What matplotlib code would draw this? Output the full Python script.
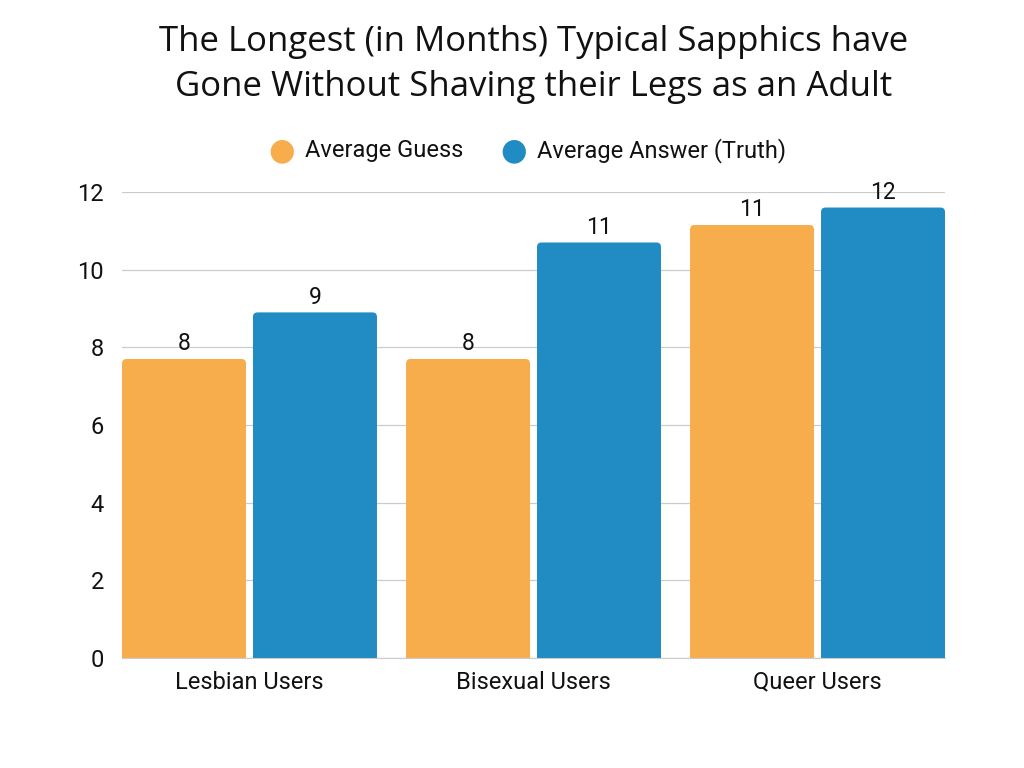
import matplotlib.pyplot as plt
from matplotlib.patches import FancyBboxPatch
import numpy as np

categories = ["Lesbian Users", "Bisexual Users", "Queer Users"]
guess = [7.7, 7.7, 11.15]
answer = [8.9, 10.7, 11.6]
guess_labels = ["8", "8", "11"]
answer_labels = ["9", "11", "12"]
series_names = ["Average Guess", "Average Answer (Truth)"]

ORANGE = "#F7AD4C"
BLUE = "#218BC3"
tick_font = ["Roboto", "DejaVu Sans"]

fig = plt.figure(figsize=(10.24, 7.68), dpi=100)
ax = fig.add_axes([0.1191, 0.1432, 0.8038, 0.6068])

x = np.arange(len(categories))
w = 0.4366
off = 0.2306


def rounded_bars(xs, vals, color):
    bars = ax.bar(xs, vals, width=w, color=color, zorder=3)
    for b in bars:
        bx, bh = b.get_x(), b.get_height()
        b.set_visible(False)
        p = FancyBboxPatch((bx, -0.3), w, bh + 0.3,
                           boxstyle="round,pad=0,rounding_size=0.016",
                           mutation_aspect=7.3, facecolor=color,
                           edgecolor="none", zorder=3)
        ax.add_patch(p)
    return bars


rounded_bars(x - off, guess, ORANGE)
rounded_bars(x + off, answer, BLUE)

for xi, v, lab in zip(x - off, guess, guess_labels):
    ax.text(xi, v + 0.1, lab, ha="center", va="bottom", fontsize=16.5,
            family=tick_font, color="#111111")
for xi, v, lab in zip(x + off, answer, answer_labels):
    ax.text(xi, v + 0.1, lab, ha="center", va="bottom", fontsize=16.5,
            family=tick_font, color="#111111")

ax.set_xlim(-0.449, 2.449)
ax.set_ylim(0, 12)
ax.set_yticks(range(0, 13, 2))
ax.set_xticks(x)
ax.set_xticklabels(categories)
for lab in ax.get_xticklabels() + ax.get_yticklabels():
    lab.set_family(tick_font)
    lab.set_fontsize(17)
    lab.set_color("#111111")
ax.tick_params(axis="y", length=0, pad=13)
ax.tick_params(axis="x", length=0, pad=9)
ax.yaxis.grid(True, color="#cccccc", linewidth=0.9, zorder=0)
for s in ["top", "right", "left"]:
    ax.spines[s].set_visible(False)
ax.spines["bottom"].set_color("#cccccc")
ax.spines["bottom"].set_zorder(4)

# legend
fig.text(0.2754, 0.8034, "\u25CF", color=ORANGE, fontsize=22, ha="center", va="center")
fig.text(0.298, 0.8034, series_names[0], fontsize=17, family=tick_font,
         ha="left", va="center", color="#111111")
fig.text(0.502, 0.8034, "\u25CF", color=BLUE, fontsize=22, ha="center", va="center")
fig.text(0.524, 0.8034, series_names[1], fontsize=17, family=tick_font,
         ha="left", va="center", color="#111111")

fig.text(0.521, 0.916, "The Longest (in Months) Typical Sapphics have\nGone Without Shaving their Legs as an Adult",
         ha="center", va="center", fontsize=25, family=["Open Sans", "DejaVu Sans"],
         linespacing=1.42, color="#111111")

fig.savefig("out.png", dpi=100)
